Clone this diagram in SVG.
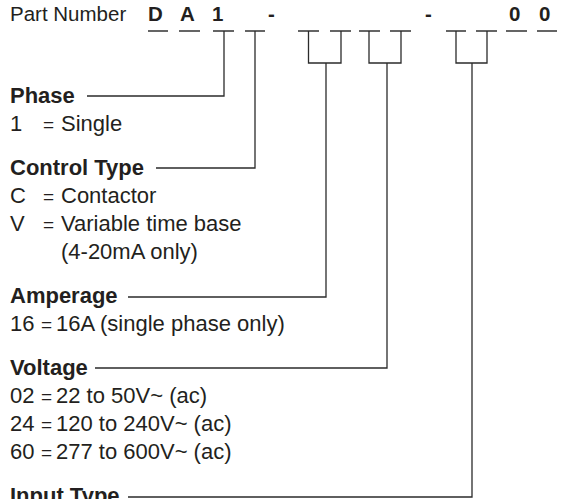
<svg xmlns="http://www.w3.org/2000/svg" width="562" height="499" viewBox="0 0 562 499">
  <style>
    text { font-family: "Liberation Sans", Arial, Helvetica, sans-serif; fill: #231f20; }
    .lbl { font-size: 20.5px; }
    .code { font-size: 20.5px; font-weight: bold; }
    .head { font-size: 22px; font-weight: bold; }
    .body { font-size: 22px; }
    .eq { font-size: 19px; }
    .ln { fill: none; stroke: #2b2b2b; stroke-width: 1.3; }
    .us { fill: none; stroke: #333; stroke-width: 1.3; }
  </style>
  <rect width="562" height="499" fill="#ffffff"/>

  <!-- part number header with blank slots -->
  <g id="part-number">
    <text class="lbl" x="10" y="21">Part Number</text>
    <text class="code" x="148" y="21">D</text>
    <text class="code" x="180" y="21">A</text>
    <text class="code" x="212" y="21">1</text>
    <text class="code" x="268" y="21">-</text>
    <text class="code" x="425" y="21">-</text>
    <text class="code" x="509" y="21">0</text>
    <text class="code" x="539" y="21">0</text>
    <path class="us" d="M148 31H168 M179 31H200 M213 31H234 M245 31H265 M298 31H319 M330 31H351 M359 31H380 M390 31H411 M446 31H466 M476 31H497 M506 31H527 M537 31H557"/>
  </g>

  <g id="phase">
    <text class="head" x="10" y="103">Phase</text>
    <text class="body" y="131"><tspan x="10">1</tspan><tspan class="eq" x="43">=</tspan><tspan x="61">Single</tspan></text>
  </g>

  <g id="control-type">
    <text class="head" x="10" y="175">Control Type</text>
    <text class="body" y="203"><tspan x="10">C</tspan><tspan class="eq" x="43">=</tspan><tspan x="61">Contactor</tspan></text>
    <text class="body" y="231"><tspan x="10">V</tspan><tspan class="eq" x="43">=</tspan><tspan x="61">Variable time base</tspan></text>
    <text class="body" x="61" y="259">(4-20mA only)</text>
  </g>

  <g id="amperage">
    <text class="head" x="10" y="303">Amperage</text>
    <text class="body" y="331"><tspan x="10">16</tspan><tspan class="eq" x="41">=</tspan><tspan x="56">16A (single phase only)</tspan></text>
  </g>

  <g id="voltage">
    <text class="head" x="10" y="375">Voltage</text>
    <text class="body" y="403"><tspan x="10">02</tspan><tspan class="eq" x="41">=</tspan><tspan x="56">22 to 50V~ (ac)</tspan></text>
    <text class="body" y="431"><tspan x="10">24</tspan><tspan class="eq" x="41">=</tspan><tspan x="56">120 to 240V~ (ac)</tspan></text>
    <text class="body" y="459"><tspan x="10">60</tspan><tspan class="eq" x="41">=</tspan><tspan x="56">277 to 600V~ (ac)</tspan></text>
  </g>

  <g id="input-type">
    <text class="head" x="10" y="503">Input Type</text>
  </g>

  <!-- leader lines from each slot to its field heading -->
  <g id="connectors">
    <path class="ln" d="M224 31V96H87"/>
    <path class="ln" d="M255 31V168H156"/>
    <path class="ln" d="M308.5 31V63H341V31 M326 63V297H128"/>
    <path class="ln" d="M369 31V63H401V31 M387 63V368H95"/>
    <path class="ln" d="M456 31V63H487V31 M472 63V497H128"/>
  </g>
</svg>
